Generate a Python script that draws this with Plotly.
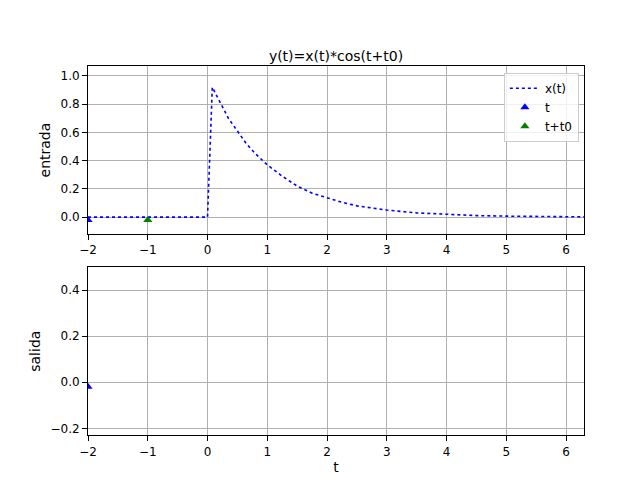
import plotly.graph_objects as go

# x(t)
t_vals = [-2, 0, 0.08, 0.15, 0.25, 0.35, 0.5, 0.65, 0.8, 1, 1.25, 1.5, 1.75, 2, 2.25, 2.5, 2.75, 3, 3.5, 4, 4.5, 5, 5.5, 6.3]
x_vals = [0, 0, 0.92, 0.86, 0.78, 0.70, 0.61, 0.52, 0.45, 0.37, 0.29, 0.22, 0.17, 0.135, 0.105, 0.08, 0.064, 0.05, 0.03, 0.018, 0.011, 0.007, 0.004, 0.002]

# marker points
t_mark = [-2]
t_mark_y = [-0.02]
tt0_mark = [-1]
tt0_mark_y = [-0.02]
y_t = []
y_vals = []

fig = go.Figure()
fig.add_trace(go.Scatter(x=t_vals, y=x_vals, mode='lines', name='x(t)', line=dict(color='blue', dash='dot', width=1.6), legend='legend'))
fig.add_trace(go.Scatter(x=t_mark, y=t_mark_y, mode='markers', name='t', marker=dict(symbol='triangle-up', color='blue', size=8), legend='legend'))
fig.add_trace(go.Scatter(x=tt0_mark, y=tt0_mark_y, mode='markers', name='t+t0', marker=dict(symbol='triangle-up', color='green', size=8), legend='legend'))
fig.add_trace(go.Scatter(x=y_t, y=y_vals, mode='lines', name='y(t)', line=dict(color='green'), xaxis='x2', yaxis='y2', legend='legend2', showlegend=True))
fig.add_trace(go.Scatter(x=t_mark, y=t_mark_y, mode='markers', showlegend=False, marker=dict(symbol='triangle-up', color='blue', size=8), xaxis='x2', yaxis='y2'))

ax = dict(showline=True, linecolor='black', mirror=True, showgrid=True, gridcolor='#b0b0b0', zeroline=False, ticks='outside', tickcolor='black', tickfont=dict(size=12), automargin=False)
fig.update_layout(
    width=640, height=480, plot_bgcolor='white', paper_bgcolor='white',
    font=dict(family='DejaVu Sans', color='black', size=12),
    margin=dict(l=0, r=0, t=0, b=0), showlegend=True,
    title=dict(text='y(t)=x(t)*cos(t+t0)', x=0.5125, y=0.91, xanchor='center', font=dict(size=14)),
    xaxis=dict(ax, domain=[0.125, 0.9], range=[-2, 6.3], dtick=1, anchor='y'),
    yaxis=dict(ax, domain=[0.529, 0.879], range=[-0.12, 1.07], dtick=0.2, tickformat='.1f', title=dict(text='entrada', standoff=6), anchor='x'),
    xaxis2=dict(ax, domain=[0.125, 0.9], range=[-2, 6.3], dtick=1, anchor='y2', title=dict(text='t', standoff=4)),
    yaxis2=dict(ax, domain=[0.110, 0.460], range=[-0.23, 0.5], dtick=0.2, tickformat='.1f', title=dict(text='salida', standoff=6), anchor='x2'),
    legend=dict(x=0.892, y=0.865, xanchor='right', yanchor='top', bordercolor='#cccccc', borderwidth=1, bgcolor='rgba(255,255,255,0.8)'),
    legend2=dict(x=0.892, y=0.446, xanchor='right', yanchor='top', bordercolor='#cccccc', borderwidth=1, bgcolor='rgba(255,255,255,0.8)'),
)
fig.write_html('out.html')
